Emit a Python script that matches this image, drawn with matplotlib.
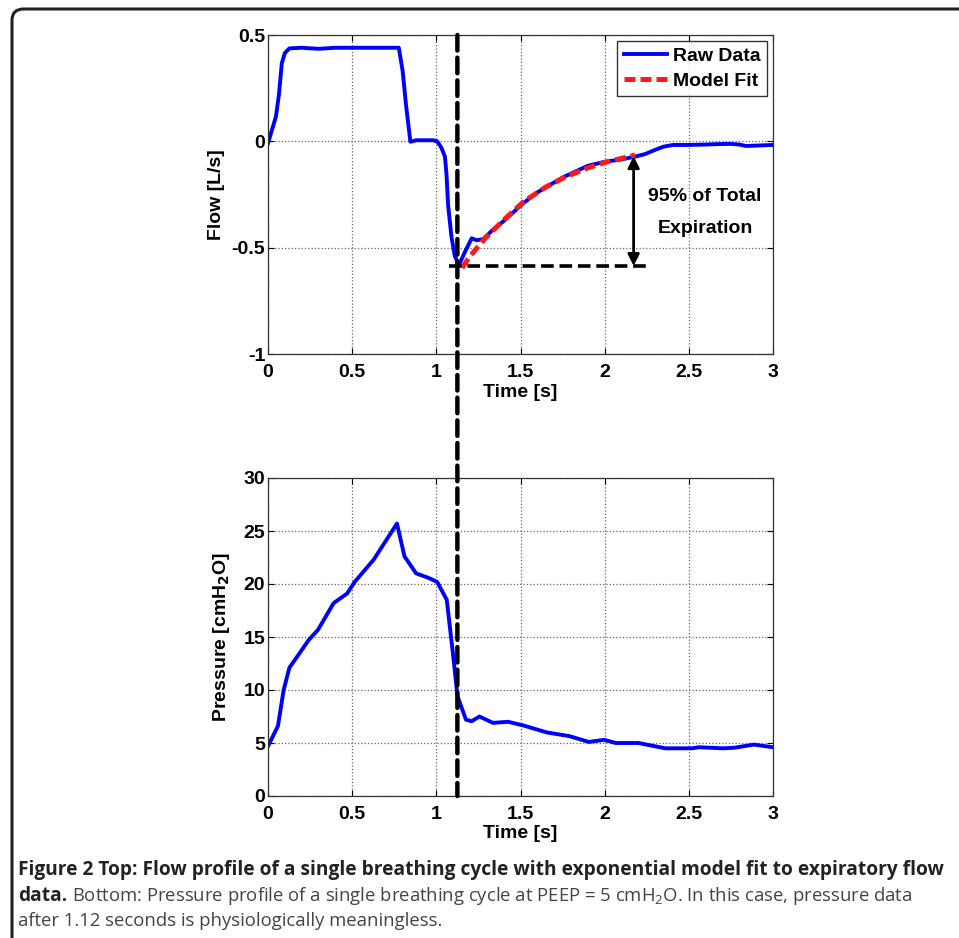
import matplotlib
matplotlib.use("Agg")
import matplotlib.pyplot as plt
from matplotlib import font_manager
from matplotlib.patches import FancyBboxPatch, ConnectionPatch

# ---------------- data ----------------
flow_t = [0.0, 0.047, 0.065, 0.082, 0.10, 0.127, 0.20, 0.30, 0.40, 0.50, 0.60, 0.70, 0.777,
          0.80, 0.82, 0.846, 0.88, 0.93, 0.98, 1.005, 1.03, 1.051, 1.06, 1.07, 1.09, 1.11, 1.135,
          1.17, 1.21, 1.24, 1.279, 1.33, 1.40, 1.518, 1.60, 1.75, 1.90, 2.00, 2.10, 2.18,
          2.24, 2.30, 2.35, 2.407, 2.50, 2.60, 2.67, 2.75, 2.80, 2.84, 2.90, 3.00]
flow_v = [-0.009, 0.116, 0.22, 0.367, 0.415, 0.437, 0.44, 0.435, 0.44, 0.44, 0.44, 0.44, 0.44,
          0.33, 0.17, -0.002, 0.005, 0.005, 0.005, 0.0, -0.03, -0.072, -0.15, -0.30, -0.45, -0.54, -0.58,
          -0.52, -0.456, -0.465, -0.46, -0.42, -0.375, -0.29, -0.24, -0.17, -0.115, -0.096, -0.085, -0.072,
          -0.06, -0.04, -0.025, -0.017, -0.017, -0.015, -0.013, -0.012, -0.015, -0.022, -0.02, -0.017]

fit_t = [1.153, 1.20, 1.29, 1.40, 1.518, 1.65, 1.77, 1.90, 1.997, 2.10, 2.18]
fit_v = [-0.595, -0.54, -0.456, -0.37, -0.284, -0.215, -0.166, -0.125, -0.10, -0.08, -0.064]

pres_t = [0.0, 0.059, 0.093, 0.127, 0.18, 0.241, 0.298, 0.39, 0.47, 0.515, 0.628, 0.697, 0.766,
          0.811, 0.88, 0.95, 1.005, 1.062, 1.096, 1.126, 1.176, 1.21, 1.256, 1.336, 1.427, 1.518,
          1.655, 1.79, 1.906, 1.997, 2.066, 2.20, 2.36, 2.52, 2.56, 2.70, 2.77, 2.886, 3.0]
pres_v = [4.7, 6.6, 10.0, 12.1, 13.3, 14.7, 15.7, 18.2, 19.1, 20.2, 22.3, 24.0, 25.7,
          22.6, 21.0, 20.6, 20.2, 18.5, 13.8, 9.4, 7.2, 7.05, 7.5, 6.9, 7.0, 6.65,
          6.0, 5.65, 5.1, 5.3, 5.0, 5.0, 4.5, 4.5, 4.6, 4.5, 4.55, 4.85, 4.6]

t_cut = 1.125
peak_flow = -0.586
flow_95 = -0.07
x_ticks = [0, 0.5, 1, 1.5, 2, 2.5, 3]
x_ticklabels = ["0", "0.5", "1", "1.5", "2", "2.5", "3"]
flow_ticks = [-1, -0.5, 0, 0.5]
flow_ticklabels = ["-1", "-0.5", "0", "0.5"]
pres_ticks = [0, 5, 10, 15, 20, 25, 30]
pres_ticklabels = ["0", "5", "10", "15", "20", "25", "30"]

caption1 = "Figure 2 Top: Flow profile of a single breathing cycle with exponential model fit to expiratory flow"
caption2_bold = "data."
caption2 = r"Bottom: Pressure profile of a single breathing cycle at PEEP = 5 cmH$_2$O. In this case, pressure data"
caption3 = "after 1.12 seconds is physiologically meaningless."

# ---------------- fonts ----------------
avail = {f.name for f in font_manager.fontManager.ttflist}
plot_font = "Liberation Sans" if "Liberation Sans" in avail else "DejaVu Sans"
cap_font = "Open Sans" if "Open Sans" in avail else plot_font
plt.rcParams["font.family"] = [plot_font, "DejaVu Sans"]
plt.rcParams["mathtext.default"] = "regular"

fig = plt.figure(figsize=(9.59, 9.38), dpi=100)
W, H = 959, 938

def ax_rect(l, t, r, b):
    return [l / W, 1 - b / H, (r - l) / W, (b - t) / H]

ax1 = fig.add_axes(ax_rect(268, 35, 773, 354))
ax2 = fig.add_axes(ax_rect(268, 478, 773, 796))

blue = "#0000ff"
fs = 14

for ax in (ax1, ax2):
    ax.set_xlim(0, 3)
    ax.set_xticks(x_ticks)
    ax.set_xticklabels(x_ticklabels, fontsize=fs, fontweight="bold")
    ax.grid(True, linestyle=":", color="#666666", linewidth=0.9)
    ax.tick_params(direction="in", top=True, right=True, length=4, width=0.8)
    ax.tick_params(axis="x", pad=7)
    ax.tick_params(axis="y", pad=2)
    for s in ax.spines.values():
        s.set_linewidth(0.9)
        s.set_color("#333333")
    ax.set_xlabel("Time [s]", fontsize=fs, fontweight="bold", labelpad=2)

ax1.plot(flow_t, flow_v, color=blue, lw=2.8, label="Raw Data", solid_joinstyle="round")
ax1.plot(fit_t, fit_v, color="#ff1a1a", lw=3.6, ls=(0, (2.2, 1.0)), label="Model Fit")
ax1.set_ylim(-1, 0.5)
ax1.set_yticks(flow_ticks)
ax1.set_yticklabels(flow_ticklabels, fontsize=fs, fontweight="bold")
ax1.set_ylabel("Flow [L/s]", fontsize=fs, fontweight="bold", labelpad=5)

# annotations top
ax1.plot([1.073, 2.26], [peak_flow, peak_flow], color="black", lw=2.6, ls=(0, (3.5, 1.6)))
ax1.annotate("", xy=(2.172, flow_95), xytext=(2.172, peak_flow),
             arrowprops=dict(arrowstyle="<|-|>", color="black", lw=2, mutation_scale=17, shrinkA=0, shrinkB=0))
ax1.text(2.597, -0.260, "95% of Total", ha="center", va="center", fontsize=fs, fontweight="bold")
ax1.text(2.597, -0.412, "Expiration", ha="center", va="center", fontsize=fs, fontweight="bold")

leg = ax1.legend(loc="upper right", prop={"weight": "bold", "size": fs},
                 frameon=True, fancybox=False, edgecolor="black", handlelength=2.2,
                 borderpad=0.35, labelspacing=0.35, handletextpad=0.3, borderaxespad=0.3)
leg.get_frame().set_linewidth(1.0)

ax2.plot(pres_t, pres_v, color=blue, lw=2.8, solid_joinstyle="round")
ax2.set_ylim(0, 30)
ax2.set_yticks(pres_ticks)
ax2.set_yticklabels(pres_ticklabels, fontsize=fs, fontweight="bold")
ax2.set_ylabel(r"Pressure [cmH$_\mathbf{2}$O]", fontsize=fs, fontweight="bold", labelpad=8)

# vertical dashed line spanning both panels
con = ConnectionPatch(xyA=(t_cut, 0.5), coordsA=ax1.transData,
                      xyB=(t_cut, 0), coordsB=ax2.transData,
                      color="black", lw=3.2, linestyle=(0, (3.5, 1.6)), zorder=10)
fig.add_artist(con)

# figure frame (rounded top-left corner)
frame = FancyBboxPatch((12 / W, -0.1), 1.2, 1.1 - 9 / H, boxstyle="round,pad=0,rounding_size=0.012",
                       transform=fig.transFigure, facecolor="none", edgecolor="#222222", lw=2.2)
fig.add_artist(frame)

# caption
dark = "#222222"
grey = "#444444"
cap_family = [cap_font, "DejaVu Sans"]
t1 = fig.text(18 / W, 1 - 870 / H, caption1, fontsize=14, fontweight="bold",
              family=cap_family, color=dark, va="center")
fig.canvas.draw()
cap_fs = 14 * 927.0 / t1.get_window_extent().width
t1.set_fontsize(cap_fs)
t_b = fig.text(18 / W, 1 - 896 / H, caption2_bold, fontsize=cap_fs, fontweight="bold",
               family=cap_family, color=dark, va="center")
fig.canvas.draw()
bb = t_b.get_window_extent()
t2 = fig.text((bb.x1 + 5) / W, 1 - 896 / H, caption2,
              fontsize=14, family=cap_family, color=grey, va="center")
fig.canvas.draw()
reg_fs = 14 * (918.0 - bb.x1 - 5) / t2.get_window_extent().width
t2.set_fontsize(reg_fs)
fig.text(18 / W, 1 - 921 / H, caption3,
         fontsize=reg_fs, family=cap_family, color=grey, va="center")

fig.savefig("out.png", dpi=100)
